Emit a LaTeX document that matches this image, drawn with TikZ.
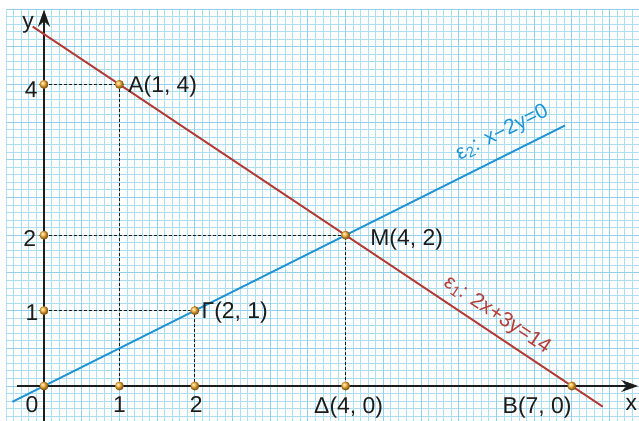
\documentclass[tikz,border=0pt]{standalone}
\usepackage{fontspec}
\setmainfont{Liberation Sans}
\usetikzlibrary{arrows.meta}
\definecolor{gridBlue}{HTML}{ADDDF1}
\definecolor{gridBlueDark}{HTML}{93D0EA}
\definecolor{lineRed}{HTML}{B43C36}
\definecolor{lineBlue}{HTML}{1E94D4}
\definecolor{dotOrange}{HTML}{FAAE2A}
\definecolor{axisInk}{HTML}{1C1C1C}
\tikzset{
  every picture/.style={font=\fontsize{23}{27}\selectfont, text=axisInk},
  plot grid/.style={draw=gridBlue, line width=0.9pt},
  plot grid major/.style={draw=gridBlueDark, line width=1pt},
  plot axis/.style={draw=axisInk, line width=1.4pt,
    -{Stealth[length=17pt,width=12pt]}},
  plot eps one/.style={draw=lineRed, line width=1.9pt},
  plot eps two/.style={draw=lineBlue, line width=1.9pt},
  plot guide/.style={draw=axisInk, line width=0.9pt, dash pattern=on 3pt off 2pt},
  plot dot/.style={circle, inner sep=0pt, minimum size=9pt,
    shading=ball, ball color=dotOrange},
  plot label/.style={inner sep=1pt},
  eq label/.style={font=\fontsize{21}{25}\selectfont, inner sep=1pt}
}

\begin{document}
\begin{tikzpicture}[x=75.4bp,y=75.4bp]
  \useasboundingbox (-0.5836,-0.4642) rectangle (7.8912,5.1194);
  % squared paper
  \begin{scope}
    \clip (-0.5,-0.4642) rectangle (7.8912,5.0);
    \draw[plot grid,step=0.1] (-0.5,-0.5) grid (7.9,5.0);
    \draw[plot grid major,step=0.5] (-0.5,-0.5) grid (7.9,5.0);
  \end{scope}
  % points
  \coordinate (O) at (0,0);
  \coordinate (pA) at (1,4);
  \coordinate (pM) at (4,2);
  \coordinate (pG) at (2,1);
  \coordinate (pD) at (4,0);
  \coordinate (pB) at (7,0);
  \coordinate (x1) at (1,0);
  \coordinate (x2) at (2,0);
  \coordinate (y1) at (0,1);
  \coordinate (y2) at (0,2);
  \coordinate (y4) at (0,4);
  % axes
  \coordinate (xs) at (-0.36,0);
  \coordinate (xe) at (7.88,0);
  \coordinate (ys) at (0,-0.47);
  \coordinate (ye) at (0,4.99);
  \draw[plot axis] (xs) -- (xe);
  \draw[plot axis] (ys) -- (ye);
  \node[plot label] (lblx) at (7.79,-0.25) {x};
  \node[plot label] (lbly) at (-0.21,4.79) {y};
  % guides
  \draw[plot guide] (y4) -- (pA) -- (x1);
  \draw[plot guide] (y2) -- (pM) -- (pD);
  \draw[plot guide] (y1) -- (pG) -- (x2);
  % lines
  \coordinate (e1s) at (-0.15,4.7667);
  \coordinate (e1e) at (7.41,-0.2733);
  \coordinate (e2s) at (-0.42,-0.21);
  \coordinate (e2e) at (6.91,3.455);
  \draw[plot eps one] (e1s) -- (e1e);
  \draw[plot eps two] (e2s) -- (e2e);
  \node[eq label,text=lineBlue,rotate=26.57] (lblE2) at (6.08,3.355)
    {ε\textsubscript{2}: x−2y=0};
  \node[eq label,text=lineRed,rotate=-33.69] (lblE1) at (6.01,0.935)
    {ε\textsubscript{1}: 2x+3y=14};
  % dots
  \foreach \p in {O,pA,pM,pG,pD,pB,x1,x2,y1,y2,y4}
    \node[plot dot] (d\p) at (\p) {};
  % tick labels
  \node[plot label] (lbl0) at (-0.16,-0.25) {0};
  \node[plot label] (lblx1) at (1,-0.25) {1};
  \node[plot label] (lblx2) at (2.02,-0.25) {2};
  \node[plot label] (lbly1) at (-0.16,0.97) {1};
  \node[plot label] (lbly2) at (-0.19,1.95) {2};
  \node[plot label] (lbly4) at (-0.17,3.93) {4};
  % point labels
  \node[plot label] (lblA) at (1.575,3.97) {A(1, 4)};
  \node[plot label] (lblG) at (2.53,0.97) {Γ(2, 1)};
  \node[plot label] (lblM) at (4.81,1.94) {M(4, 2)};
  \node[plot label] (lblD) at (4.04,-0.28) {Δ(4, 0)};
  \node[plot label] (lblB) at (6.54,-0.28) {B(7, 0)};
\end{tikzpicture}
\end{document}
